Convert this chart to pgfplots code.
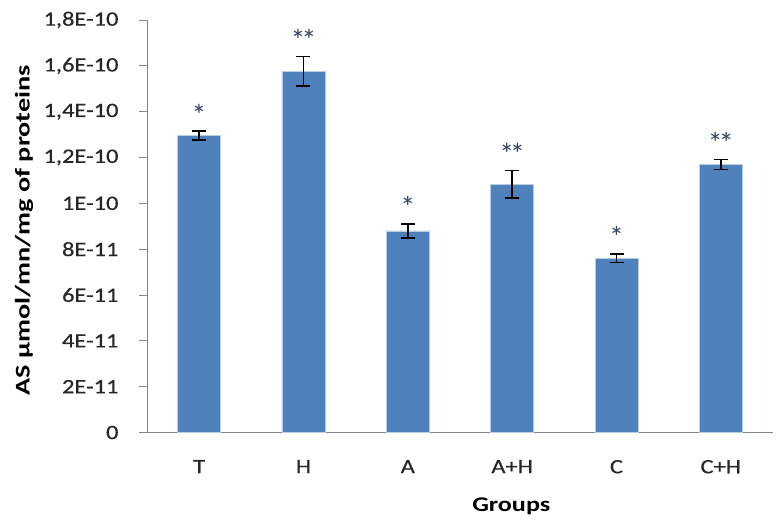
\documentclass[border=0pt]{standalone}
\usepackage{pgfplots}
\pgfplotsset{compat=1.18}
\usepackage{fontspec}
\setmainfont{Carlito}
\newfontfamily\widefont[FakeStretch=1.2, FakeBold=0.4]{Carlito}
\newfontfamily\labelfont[FakeStretch=1.35]{Carlito}
\newfontfamily\xlabelfont[FakeStretch=1.25]{Carlito}

\definecolor{barblue}{HTML}{4F81BD}
\definecolor{baredge}{HTML}{B9CDE5}
\definecolor{axisgray}{HTML}{868686}
\definecolor{ticktext}{HTML}{262626}
\definecolor{stargray}{HTML}{34405E}

\begin{document}
\begin{tikzpicture}[x=1bp,y=1bp]
\begin{axis}[
  scale only axis,
  width=626bp, height=412.5bp,
  at={(0,0)}, anchor=south west,
  xmin=-0.5, xmax=5.5,
  ymin=0, ymax=1.8e-10,
  scaled y ticks=false,
  axis x line*=bottom, axis y line*=left,
  axis line style={axisgray, line width=0.9pt},
  every outer x axis line/.append style={-},
  every outer y axis line/.append style={-},
  xtick={0,1,2,3,4,5},
  xticklabels={T,H,A,A+H,C,C+H},
  x tick style={draw=none},
  extra x ticks={-0.5,0.5,1.5,2.5,3.5,4.5,5.5},
  extra x tick labels={},
  extra x tick style={tick style={draw=axisgray, line width=0.9pt}, major tick length=9bp, tick align=outside},
  ytick={0,2e-11,4e-11,6e-11,8e-11,1e-10,1.2e-10,1.4e-10,1.6e-10,1.8e-10},
  yticklabels={0,2E-11,4E-11,6E-11,8E-11,1E-10,{1,2E-10},{1,4E-10},{1,6E-10},{1,8E-10}},
  y tick style={draw=axisgray, line width=0.9pt},
  tick align=outside, major tick length=8bp,
  tick label style={font=\widefont\fontsize{20.5}{24}\selectfont, text=ticktext},
  yticklabel style={xshift=-17bp},
  xticklabel style={yshift=-16bp},
  xlabel={\bfseries Groups},
  ylabel={\bfseries AS µmol/mn/mg of proteins},
  xlabel style={font=\xlabelfont\fontsize{21}{24}\selectfont, at={(axis description cs:0.582,0)}, anchor=center, yshift=-74bp},
  ylabel style={font=\labelfont\fontsize{21}{24}\selectfont, at={(axis description cs:-0.1965,0.49)}, anchor=center},
  ybar, bar width=43bp,
]
\addplot[fill=barblue, draw=baredge, line width=0.6pt,
  error bars/.cd, y dir=both, y explicit,
  error bar style={black, line width=1.6pt},
  error mark options={rotate=90, mark size=7bp, line width=1.6pt, black}]
  coordinates {
    (0,1.296e-10) +- (0,0.019e-10)
    (1,1.576e-10) +- (0,0.064e-10)
    (2,0.880e-10) +- (0,0.031e-10)
    (3,1.084e-10) +- (0,0.060e-10)
    (4,0.761e-10) +- (0,0.019e-10)
    (5,1.169e-10) +- (0,0.022e-10)
  };
% significance marks above the error bars
\tikzset{sig/.style={font=\fontsize{30}{32}\selectfont, text=stargray, anchor=base, yshift=6bp, inner sep=0pt}}
\node[sig] at (axis cs:0,1.315e-10) {*};
\node[sig] at (axis cs:1,1.640e-10) {*\kern-4bp*};
\node[sig] at (axis cs:2,0.911e-10) {*};
\node[sig] at (axis cs:3,1.144e-10) {*\kern-4bp*};
\node[sig] at (axis cs:4,0.780e-10) {*};
\node[sig] at (axis cs:5,1.191e-10) {*\kern-4bp*};
\end{axis}
\pgfresetboundingbox
\path[use as bounding box] (-147bp,-87.5bp) rectangle (633bp,432.5bp);
\end{tikzpicture}
\end{document}
